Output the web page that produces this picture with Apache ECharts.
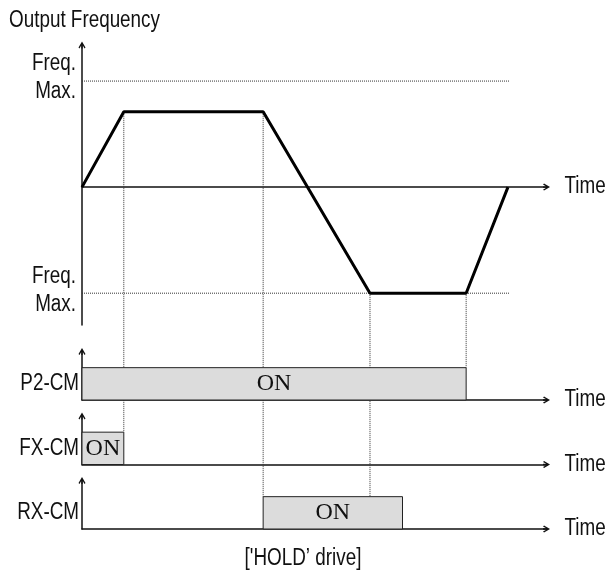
<!DOCTYPE html>
<html><head><meta charset="utf-8">
<script src="https://cdn.jsdelivr.net/npm/echarts@6/dist/echarts.min.js"></script>
<style>html,body{margin:0;padding:0;background:#fff}#c{width:608px;height:581px}</style>
</head><body><div id="c"></div>
<script>
// ---------------- data ----------------
const freqTime  = [0, 9, 39, 62, 82.7, 91.7];
const freqValue = [0, 71, 71, -100, -100, 0];
const freqMaxLevels = [100, -100];
const freqMaxEnd = 92;
const laneNames   = ['P2-CM', 'FX-CM', 'RX-CM'];
const laneOnStart = [0, 0, 39];
const laneOnEnd   = [82.7, 9, 69];
const laneOnLevel = 1;
const onLabel   = 'ON';
const timeLabel = 'Time';
const yTitle    = 'Output Frequency';
const maxLabel  = 'Freq.\nMax.';
const caption   = "['HOLD\u2019 drive]";
// dotted guide lines: time, level on frequency chart, lane whose bar top they reach
const connTime = [9, 39, 62, 82.7];
const connFreq = [71, 71, -100, -100];
const connLane = [1, 2, 2, 0];

// ---------------- styles ----------------
const SANS  = "'Liberation Sans',Arial,sans-serif";
const SERIF = "'Liberation Serif','Times New Roman',serif";
const NARROW = 0.82;   // emulate a condensed face
const FS = 23;
const ARROW = 'path://M5,0 L10,8.5 L8.6,10 L5.9,5.41 L5.9,10 L4.1,10 L4.1,5.41 L1.4,10 L0,8.5 Z';
const INK = '#111';

const chart = echarts.init(document.getElementById('c'), null, {renderer: 'canvas'});

const gridTops = [45, 351.5, 416, 480.5];
const gridHeights = [280, 48.5, 48.5, 48.5];
const grids = gridTops.map((t, i) => ({
  left: 82, right: 61.5, top: t, height: gridHeights[i],
  containLabel: false, outerBoundsMode: 'none'
}));

function axisLine() {
  return {show: true, onZero: true, symbol: ['none', ARROW], symbolSize: [9, 7],
          lineStyle: {color: INK, width: 1.5}};
}
const hidden = {axisTick: {show: false}, axisLabel: {show: false}, splitLine: {show: false}};

const xAxes = grids.map((g, i) => Object.assign({
  type: 'value', gridIndex: i, min: 0, max: 100, axisLine: axisLine()
}, hidden));

const yAxes = [Object.assign({type: 'value', gridIndex: 0, min: -130, max: 134, axisLine: axisLine()}, hidden)]
  .concat(laneNames.map((n, i) => Object.assign({
    type: 'value', gridIndex: i + 1, min: 0, max: 1.5, axisLine: axisLine()}, hidden)));

const series = [{
  type: 'line', xAxisIndex: 0, yAxisIndex: 0, z: 5,
  data: freqTime.map((t, i) => [t, freqValue[i]]),
  symbol: 'none', lineStyle: {color: '#000', width: 3}
}].concat(freqMaxLevels.map(l => ({
  type: 'line', xAxisIndex: 0, yAxisIndex: 0, z: 1,
  data: [[0, l], [freqMaxEnd, l]], symbol: 'none',
  lineStyle: {color: '#333', width: 1, type: [1, 1]}
}))).concat(laneNames.map((n, i) => ({
  type: 'custom', xAxisIndex: i + 1, yAxisIndex: i + 1, z: 3,
  data: [[laneOnStart[i], laneOnEnd[i], laneOnLevel]],
  renderItem: (params, api) => {
    const p0 = api.coord([api.value(0), api.value(2)]);
    const p1 = api.coord([api.value(1), 0]);
    return {
      type: 'rect',
      shape: {x: p0[0], y: p0[1], width: p1[0] - p0[0], height: p1[1] - p0[1]},
      style: {fill: '#dcdcdc', stroke: '#222', lineWidth: 1},
      textContent: {style: {text: onLabel, fontFamily: SERIF, fontSize: 24, fill: INK}},
      textConfig: {position: 'inside'}
    };
  }
})));

chart.setOption({
  animation: false,
  backgroundColor: '#fff',
  grid: grids, xAxis: xAxes, yAxis: yAxes, series: series
});

// ---- second pass: guides and text placed through the axes' own scales ----
const px = (g, v) => chart.convertToPixel({gridIndex: g}, v);
function txt(text, x, y, align, extra) {
  return Object.assign({type: 'text', x: x, y: y, scaleX: NARROW, silent: true, z: 10,
    style: {text: text, fontFamily: SANS, fontSize: FS, fill: INK,
            align: align, verticalAlign: 'middle', lineHeight: 28}}, extra || {});
}
const graphics = connTime.map((t, i) => {
  const a = px(0, [t, connFreq[i]]);
  const b = px(connLane[i] + 1, [t, laneOnLevel]);
  return {type: 'line', silent: true, z: 1,
          shape: {x1: a[0], y1: a[1], x2: b[0], y2: b[1]},
          style: {stroke: '#333', lineWidth: 1, lineDash: [1, 1]}};
});
// Freq. Max. labels
freqMaxLevels.forEach(l => {
  const p = px(0, [0, l]);
  graphics.push(txt(maxLabel, p[0] - 6, p[1] - 3, 'right'));
});
// lane labels
laneNames.forEach((n, i) => {
  const p = px(i + 1, [0, laneOnLevel / 2]);
  graphics.push(txt(n, p[0] - 3, p[1], 'right'));
});
// Time labels at the end of every time axis
[0, 1, 2, 3].forEach(g => {
  const p = px(g, [100, 0]);
  graphics.push(txt(timeLabel, p[0] + 18, p[1], 'left'));
});
// axis title and caption
const top0 = px(0, [0, 134]);
graphics.push(txt(yTitle, 9, top0[1] - 24, 'left'));
graphics.push(txt(caption, 303, 559, 'center'));
chart.setOption({graphic: graphics});
</script></body></html>
